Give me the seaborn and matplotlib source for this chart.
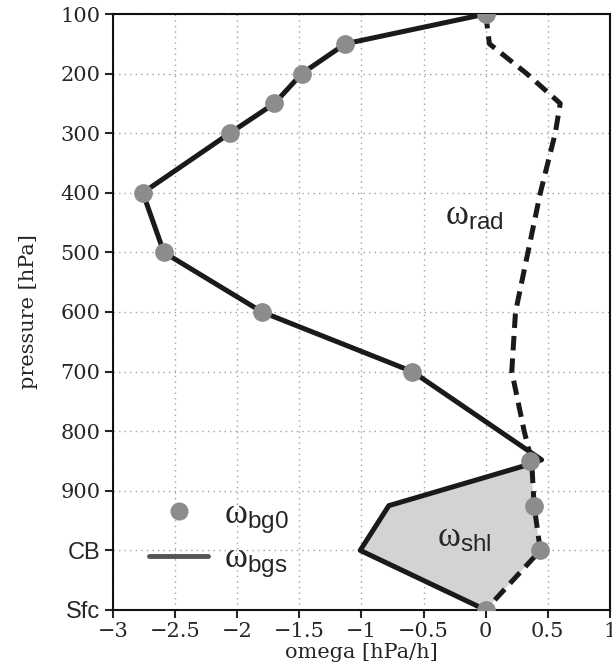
import numpy as np
import pandas as pd
import matplotlib
matplotlib.use("Agg")
import matplotlib.pyplot as plt
import seaborn as sns
from matplotlib.lines import Line2D

# --- DATI ---
# punti omega_bg0 (cerchi grigi)
bg0_p = [100, 150, 200, 250, 300, 400, 500, 600, 700, 850, 925, 1000, 1100]
bg0_w = [0.0, -1.13, -1.48, -1.70, -2.06, -2.76, -2.59, -1.80, -0.59, 0.36, 0.39, 0.44, 0.0]

# linea continua omega_bgs
bgs_p = [100, 150, 200, 250, 300, 400, 500, 600, 700, 848, 857, 925, 1000, 1100]
bgs_w = [0.0, -1.13, -1.48, -1.70, -2.06, -2.76, -2.59, -1.80, -0.59, 0.45, 0.33, -0.78, -1.01, 0.0]

# linea tratteggiata omega_rad
rad_p = [100, 150, 200, 250, 300, 400, 500, 600, 700, 800, 850, 925, 1000, 1100]
rad_w = [0.0, 0.03, 0.33, 0.60, 0.56, 0.44, 0.34, 0.24, 0.21, 0.31, 0.37, 0.39, 0.44, 0.0]

# area omega_shl
shl_p = [850, 925, 1000, 1100, 1000, 925]
shl_w = [0.36, -0.78, -1.01, 0.0, 0.44, 0.39]

yticks = [100, 200, 300, 400, 500, 600, 700, 800, 900, 1000, 1100]
ylabels = ["100", "200", "300", "400", "500", "600", "700", "800", "900", "CB", "Sfc"]
xticks = [-3, -2.5, -2, -1.5, -1, -0.5, 0, 0.5, 1]
xlabels = ["\u22123", "\u22122.5", "\u22122", "\u22121.5", "\u22121", "\u22120.5", "0", "0.5", "1"]

sns.set_style("ticks")
plt.rcParams["font.family"] = ["DejaVu Serif"]
plt.rcParams["mathtext.fontset"] = "custom"
plt.rcParams["mathtext.rm"] = "Liberation Serif"
plt.rcParams["mathtext.it"] = "Liberation Serif:italic"
plt.rcParams["mathtext.sf"] = "Liberation Sans"

fig = plt.figure(figsize=(6.12, 6.67), dpi=100)
ax = fig.add_axes([0.1846, 0.0855, 0.812, 0.8935])

ax.fill(shl_w, shl_p, color="#d3d3d3", zorder=1, lw=0)

rad = pd.DataFrame({"omega": rad_w, "p": rad_p})
sns.lineplot(data=rad, x="omega", y="p", sort=False, estimator=None, ax=ax,
             color="#1a1a1a", lw=3.6, zorder=3)
ax.lines[-1].set_dashes([2.9, 1.6])

bgs = pd.DataFrame({"omega": bgs_w, "p": bgs_p})
sns.lineplot(data=bgs, x="omega", y="p", sort=False, estimator=None, ax=ax,
             color="#1a1a1a", lw=3.6, zorder=4)

# cerchi grigi: tagliati sul bordo degli assi come nell'originale
bg0 = pd.DataFrame({"omega": bg0_w, "p": bg0_p})
sns.lineplot(data=bg0, x="omega", y="p", sort=False, estimator=None, ax=ax,
             color="#8c8c8c", lw=0, marker="o", markersize=13.5, markeredgewidth=0,
             zorder=5)
ax.lines[-1].set_linestyle("none")
ax.lines[-1].set_clip_on(True)

ax.set_xlim(-3, 1)
ax.set_ylim(1100, 100)
ax.set_xticks(xticks)
ax.set_xticklabels(xlabels, fontsize=15)
ax.set_yticks(yticks)
ax.set_yticklabels(ylabels, fontsize=15)
for lab in ax.get_yticklabels():
    if lab.get_text() in ("CB", "Sfc"):
        lab.set_family("Liberation Sans")
        lab.set_fontsize(17)
ax.grid(True, ls=(0, (1, 3)), color="#a0a0a0", lw=1)
ax.tick_params(direction="out", length=6, width=1.5, top=False, right=False, pad=3)
for s in ax.spines.values():
    s.set_linewidth(1.5)
    s.set_color("#111111")

ax.set_xlabel("omega [hPa/h]", fontsize=15, labelpad=1)
ax.set_ylabel("pressure [hPa]", fontsize=15, labelpad=16)

ax.text(-0.33, 437, r"$\mathrm{\omega}_{\mathsf{rad}}$", fontsize=25, va="center", ha="left", zorder=6)
ax.text(-0.39, 977, r"$\mathrm{\omega}_{\mathsf{shl}}$", fontsize=25, va="center", ha="left", zorder=6)

# legenda
h1 = Line2D([], [], ls="none", marker="o", ms=13, color="#8c8c8c", mec="none")
h2 = Line2D([], [], color="#555555", lw=3.5)
ax.legend([h1, h2], [r"$\mathrm{\omega}_{\mathsf{bg0}}$", r"$\mathrm{\omega}_{\mathsf{bgs}}$"],
          loc="lower left", bbox_to_anchor=(0.01, -0.002), frameon=False,
          fontsize=25, handlelength=1.7, handletextpad=0.45, labelspacing=0.15)

plt.savefig("out.png", dpi=100)
plt.close()
